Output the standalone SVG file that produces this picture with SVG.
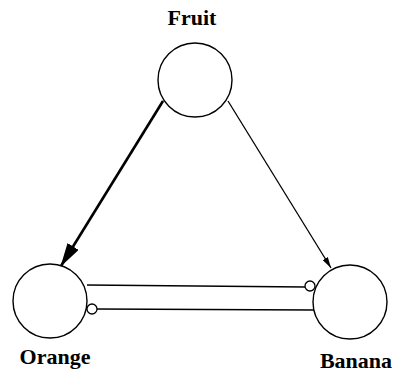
<svg xmlns="http://www.w3.org/2000/svg" width="393" height="373" viewBox="0 0 393 373">
<style>
.node{fill:#fff;stroke:#000;stroke-width:1.4}
.lbl{font-family:"Liberation Serif",serif;font-weight:bold;font-size:22px;fill:#000;text-anchor:middle}
.e{fill:none;stroke:#000;stroke-width:1.3}
.port{fill:#fff;stroke:#000;stroke-width:1.3}
</style>
<defs>
<marker id="big" markerWidth="24" markerHeight="13" refX="23" refY="6.5" orient="auto" markerUnits="userSpaceOnUse" viewBox="0 0 24 13">
<path d="M0,0 L24,6.5 L0,13 z" fill="#000"/>
</marker>
<marker id="small" markerWidth="11" markerHeight="6" refX="11" refY="3" orient="auto" markerUnits="userSpaceOnUse">
<path d="M0,0 L11,3 L0,6 z" fill="#000"/>
</marker>
</defs>
<rect width="393" height="373" fill="#fff"/>
<g id="connectors">
<line class="e" x1="163" y1="101" x2="61" y2="266" style="stroke-width:2.6" marker-end="url(#big)"/>
<line class="e" x1="228" y1="101" x2="331" y2="268" marker-end="url(#small)"/>
<line class="e" x1="87" y1="285" x2="305" y2="287"/>
<line class="e" x1="97" y1="309" x2="314" y2="310"/>
</g>
<g id="fruit">
<circle class="node" cx="195" cy="80" r="37"/>
<text class="lbl" x="192" y="25">Fruit</text>
</g>
<g id="orange">
<circle class="node" cx="50" cy="301" r="37"/>
<circle class="port" cx="92" cy="309" r="5"/>
<text class="lbl" x="55" y="364">Orange</text>
</g>
<g id="banana">
<circle class="node" cx="350" cy="302" r="37"/>
<circle class="port" cx="310" cy="286" r="5"/>
<text class="lbl" x="356" y="368">Banana</text>
</g>
</svg>
